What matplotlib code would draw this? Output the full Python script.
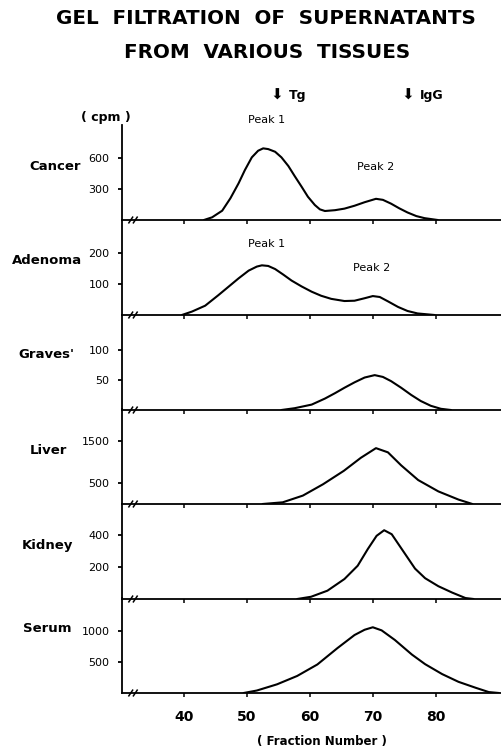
import matplotlib
matplotlib.use('Agg')
import matplotlib.pyplot as plt
import numpy as np

# --- data (fraction number, cpm) ---
tissues = ['Cancer', 'Adenoma', "Graves'", 'Liver', 'Kidney', 'Serum']

cancer_frac = [43.2, 44.5, 46.1, 47.4, 48.7, 49.7, 50.8, 51.8, 52.6, 53.4, 54.5, 55.5, 56.6, 57.6,
               58.7, 59.7, 60.8, 61.6, 62.4, 64.0, 65.5, 67.1, 68.7, 70.5, 71.6, 72.9, 74.2,
               75.5, 76.9, 78.2, 80.3]
cancer_cpm = [0, 26, 90, 210, 355, 483, 606, 670, 693, 686, 660, 606, 522, 425,
              322, 225, 145, 103, 87, 95, 110, 138, 172, 205, 195, 158, 113,
              73, 38, 18, 0]

adenoma_frac = [39.7, 41.3, 43.4, 45.5, 47.1, 48.7, 50.3, 51.6, 52.4, 53.4, 54.5, 55.8, 57.1,
                58.7, 60.3, 61.8, 63.4, 65.5, 67.1, 68.7, 70.0, 71.1, 72.4, 74.0, 75.5,
                77.1, 79.8]
adenoma_cpm = [0, 11, 30, 64, 91, 118, 143, 156, 160, 158, 148, 130, 111,
               92, 75, 62, 52, 45, 46, 54, 61, 58, 44, 26, 13,
               5, 0]

graves_frac = [55.5, 57.6, 60.3, 62.4, 64.0, 65.5, 67.1, 68.7, 70.3, 71.6, 72.9, 74.5, 76.1,
               77.6, 79.2, 80.8, 82.4]
graves_cpm = [0, 3, 9, 19, 28, 37, 46, 54, 58, 55, 48, 37, 25,
              15, 7, 2, 0]

liver_frac = [52.5, 55.7, 58.9, 62.1, 65.4, 68.1, 70.5, 72.4, 74.5, 77.2, 80.4, 83.6, 85.8]
liver_cpm = [0, 40, 200, 470, 790, 1100, 1330, 1230, 920, 570, 300, 105, 0]

kidney_frac = [58.0, 60.2, 62.8, 65.5, 67.6, 69.2, 70.6, 71.8, 73.0, 74.6, 76.7, 78.3, 80.4,
               82.6, 84.7, 86.0]
kidney_cpm = [0, 14, 52, 125, 208, 312, 395, 430, 405, 312, 190, 130, 80,
              40, 6, 0]

serum_frac = [49.5, 51.6, 54.8, 58.0, 61.2, 64.4, 67.1, 68.7, 70.0, 71.4, 73.5, 76.2, 78.3,
              81.0, 83.6, 86.3, 88.4, 90.0]
serum_cpm = [0, 40, 140, 275, 460, 725, 935, 1020, 1060, 1010, 855, 620, 465,
             305, 180, 85, 15, 0]

y_ticks = [[300, 600], [100, 200], [50, 100], [500, 1500], [200, 400], [500, 1000]]
x_ticks = [40, 50, 60, 70, 80]

# --- layout (pixels of a 502x751 picture) ---
W, H = 502, 751
y_tops = [125, 220, 315, 409, 504, 598]
panel_h = 95
y_maxes = [919, 306, 158, 2262, 594, 1532]
label_pos = [(55, 166), (47, 260), (46, 355), (48, 450), (47, 546), (47, 629)]


def fx(x):
    return x / W


def fy(y):
    return 1 - y / H


def draw_panel(fig, idx, frac, cpm, show_x):
    ax = fig.add_axes([fx(122), fy(y_tops[idx] + panel_h), fx(W - 122), panel_h / H])
    ax.plot(frac, cpm, color='black', lw=1.5, solid_capstyle='round', solid_joinstyle='round')
    ax.set_xlim(30.2, 90.5)
    ax.set_ylim(0, y_maxes[idx])
    ax.patch.set_alpha(0)

    for s in ['top', 'right']:
        ax.spines[s].set_visible(False)
    ax.spines['left'].set_linewidth(1.3)
    ax.spines['bottom'].set_linewidth(1.3)

    ax.set_yticks(y_ticks[idx])
    ax.set_yticklabels([str(v) for v in y_ticks[idx]], fontsize=8)
    ax.tick_params(axis='y', direction='out', length=3, width=1.3, pad=6)
    ax.set_xticks(x_ticks)
    ax.tick_params(axis='x', direction='out', length=3, width=1.1, pad=9)
    if show_x:
        ax.set_xticklabels([str(v) for v in x_ticks], fontsize=10, fontweight='bold')
    else:
        ax.set_xticklabels([])

    # axis break marks
    for off in [0.0, 0.012]:
        ax.plot([0.018 + off, 0.028 + off], [-0.03, 0.03], transform=ax.transAxes,
                color='black', lw=1.1, clip_on=False)
    return ax


def main():
    fig = plt.figure(figsize=(W / 100, H / 100), dpi=100)

    series = [(cancer_frac, cancer_cpm), (adenoma_frac, adenoma_cpm), (graves_frac, graves_cpm),
              (liver_frac, liver_cpm), (kidney_frac, kidney_cpm), (serum_frac, serum_cpm)]
    for i, (frac, cpm) in enumerate(series):
        draw_panel(fig, i, frac, cpm, show_x=(i == len(series) - 1))
        lx, ly = label_pos[i]
        fig.text(fx(lx), fy(ly), tissues[i], ha='center', va='center', fontsize=9.5, fontweight='bold')

    # titles and annotations
    fig.text(fx(266), fy(19), 'GEL  FILTRATION  OF  SUPERNATANTS', ha='center', va='center',
             fontsize=14.3, fontweight='bold')
    fig.text(fx(267), fy(53), 'FROM  VARIOUS  TISSUES', ha='center', va='center',
             fontsize=14.3, fontweight='bold')
    fig.text(fx(106), fy(118), '( cpm )', ha='center', va='center', fontsize=9, fontweight='bold')
    fig.text(fx(277), fy(95), '⬇', ha='center', va='center', fontsize=11)
    fig.text(fx(289), fy(95), 'Tg', ha='left', va='center', fontsize=9, fontweight='bold')
    fig.text(fx(408), fy(95), '⬇', ha='center', va='center', fontsize=11)
    fig.text(fx(420), fy(95), 'IgG', ha='left', va='center', fontsize=9, fontweight='bold')

    fig.text(fx(267), fy(120), 'Peak 1', ha='center', va='center', fontsize=8)
    fig.text(fx(376), fy(167), 'Peak 2', ha='center', va='center', fontsize=8)
    fig.text(fx(267), fy(244), 'Peak 1', ha='center', va='center', fontsize=8)
    fig.text(fx(372), fy(268), 'Peak 2', ha='center', va='center', fontsize=8)

    fig.text(fx(322), fy(741), '( Fraction Number )', ha='center', va='center',
             fontsize=8.5, fontweight='bold')

    fig.savefig('out.png', dpi=100)


if __name__ == "__main__":
    main()
